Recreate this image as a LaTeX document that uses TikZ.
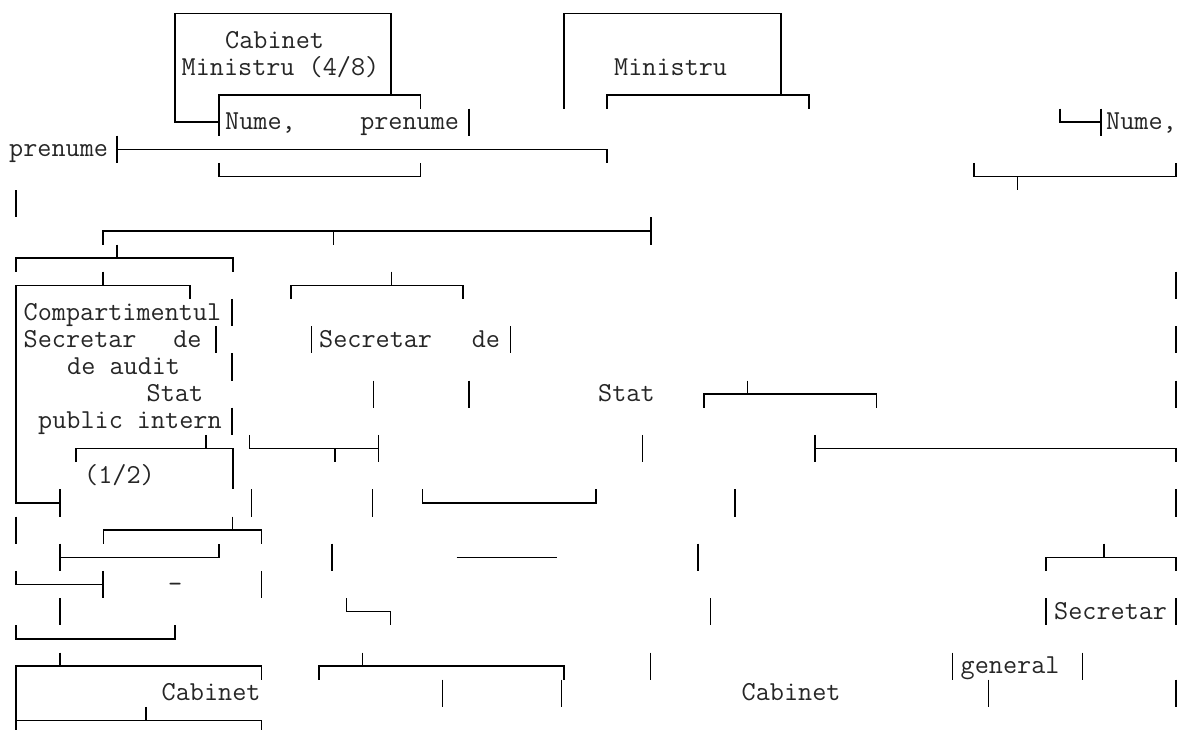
\documentclass[tikz,border=0pt]{standalone}
\usepackage{fontspec}
\begin{document}
\begin{tikzpicture}[x=1pt,y=-27.2pt,
  bx/.style={line width=1.3pt,black},
  lbl/.style={font=\ttfamily\fontsize{27.4}{30}\selectfont,anchor=base west,inner sep=0pt,yshift=-7.5pt,text=black!85}]
\useasboundingbox[fill=white] (0pt,0pt) rectangle (1179pt,-729pt);
\begin{scope}[yshift=-13.3pt]
% ---- texts ----
\node[lbl] (t1) at (225,1) {Cabinet};
\node[lbl] (t2) at (181.5,2) {Ministru (4/8)};
\node[lbl] (t3) at (614,2) {Ministru};
\node[lbl] (t4) at (225,4) {Nume,\hspace{64.5pt}prenume};
\node[lbl] (t5) at (1106,4) {Nume,};
\node[lbl] (t6) at (9,5) {prenume};
\node[lbl] (t7) at (23.5,11) {Compartimentul};
\node[lbl] (t8) at (23.5,12) {Secretar\hspace{36.8pt}de};
\node[lbl] (t9) at (319,12) {Secretar\hspace{39.8pt}de};
\node[lbl] (t10) at (67,13) {de audit};
\node[lbl] (t11) at (146.5,14) {Stat};
\node[lbl] (t12) at (598,14) {Stat};
\node[lbl] (t13) at (38,15) {public intern};
\node[lbl] (t14) at (84,17) {(1/2)};
\node[lbl] (t15) at (168,21) {-};
\node[lbl] (t16) at (1054,22) {Secretar};
\node[lbl] (t17) at (960.5,24) {general};
\node[lbl] (t18) at (161.5,25) {Cabinet};
\node[lbl] (t19) at (741.5,25) {Cabinet};
% ---- rows 0-6 ----
\draw[bx] (219,4) -- (175,4) -- (175,0) -- (391,0) -- (391,3);
\draw[bx] (219,4.5) -- (219,3) -- (420.7,3) -- (420.7,3.5);
\draw[bx] (469,3.5) -- (469,4.5);
\draw[bx] (117,4.5) -- (117,5.5);
\draw[bx] (117,5) -- (607,5) -- (607,5.5);
\draw[bx] (219,5.5) -- (219,6) -- (420.7,6) -- (420.7,5.5);
\draw[bx] (564,3.5) -- (564,0) -- (781,0) -- (781,3);
\draw[bx] (607,3.5) -- (607,3) -- (809,3) -- (809,3.5);
\draw[bx] (1060,3.5) -- (1060,4) -- (1101,4);
\draw[bx] (1101,3.5) -- (1101,4.5);
\draw[bx] (974,5.5) -- (974,6) -- (1176,6) -- (1176,5.5);
\draw[bx] (1017.7,6) -- (1017.7,6.5);
% ---- rows 7-10 ----
\draw[bx] (16,6.5) -- (16,7.5);
\draw[bx] (103,8.5) -- (103,8) -- (651,8);
\draw[bx] (651,7.5) -- (651,8.5);
\draw[bx] (333.3,8) -- (333.3,8.5);
\draw[bx] (16,9.5) -- (16,9) -- (233,9) -- (233,9.5);
\draw[bx] (117,8.5) -- (117,9);
\draw[bx] (60,18) -- (16,18) -- (16,10) -- (190,10) -- (190,10.5);
\draw[bx] (60,17.5) -- (60,18.5);
\draw[bx] (103,9.5) -- (103,10);
\draw[bx] (291,10.5) -- (291,10) -- (463,10) -- (463,10.5);
\draw[bx] (391.7,9.5) -- (391.7,10);
\draw[bx] (1176,9.5) -- (1176,10.5);
% ---- rows 11-15 ----
\draw[bx] (232,10.5) -- (232,11.5);
\draw[bx] (216,11.5) -- (216,12.5);
\draw[bx] (311.7,11.5) -- (311.7,12.5);
\draw[bx] (510.7,11.5) -- (510.7,12.5);
\draw[bx] (1176,11.5) -- (1176,12.5);
\draw[bx] (232,12.5) -- (232,13.5);
\draw[bx] (373.3,13.5) -- (373.3,14.5);
\draw[bx] (469,13.5) -- (469,14.5);
\draw[bx] (704,14.5) -- (704,14) -- (876.7,14) -- (876.7,14.5);
\draw[bx] (747.7,13.5) -- (747.7,14);
\draw[bx] (1176,13.5) -- (1176,14.5);
\draw[bx] (232,14.5) -- (232,15.5);
% ---- rows 16-18 ----
\draw[bx] (76,16.5) -- (76,16) -- (233,16) -- (233,17.5);
\draw[bx] (206,15.5) -- (206,16);
\draw[bx] (249.3,15.5) -- (249.3,16) -- (378.3,16);
\draw[bx] (378.3,15.5) -- (378.3,16.5);
\draw[bx] (335,16) -- (335,16.5);
\draw[bx] (642.3,15.5) -- (642.3,16.5);
\draw[bx] (815,15.5) -- (815,16.5);
\draw[bx] (815,16) -- (1176,16) -- (1176,16.5);
\draw[bx] (251.7,17.5) -- (251.7,18.5);
\draw[bx] (372.7,17.5) -- (372.7,18.5);
\draw[bx] (422.7,17.5) -- (422.7,18) -- (596,18) -- (596,17.5);
\draw[bx] (735,17.5) -- (735,18.5);
\draw[bx] (1176,17.5) -- (1176,18.5);
% ---- rows 19-23 ----
\draw[bx] (16,18.5) -- (16,19.5);
\draw[bx] (103.3,19.5) -- (103.3,19) -- (261.7,19) -- (261.7,19.5);
\draw[bx] (232.7,18.5) -- (232.7,19);
\draw[bx] (60,19.5) -- (60,20.5);
\draw[bx] (60,20) -- (219,20) -- (219,19.5);
\draw[bx] (332,19.5) -- (332,20.5);
\draw[bx] (456.7,20) -- (556.7,20);
\draw[bx] (698,19.5) -- (698,20.5);
\draw[bx] (1046,20.5) -- (1046,20) -- (1176,20) -- (1176,20.5);
\draw[bx] (1104,19.5) -- (1104,20);
\draw[bx] (16,20.5) -- (16,21) -- (103,21);
\draw[bx] (103,20.5) -- (103,21.5);
\draw[bx] (261.7,20.5) -- (261.7,21.5);
\draw[bx] (60,21.5) -- (60,22.5);
\draw[bx] (346.7,21.5) -- (346.7,22) -- (390.7,22) -- (390.7,22.5);
\draw[bx] (710.7,21.5) -- (710.7,22.5);
\draw[bx] (1046,21.5) -- (1046,22.5);
\draw[bx] (1176,21.5) -- (1176,22.5);
\draw[bx] (16,22.5) -- (16,23) -- (175,23) -- (175,22.5);
% ---- rows 24-26 ----
\draw[bx] (16,24.5) -- (16,24) -- (261.7,24) -- (261.7,24.5);
\draw[bx] (60,23.5) -- (60,24);
\draw[bx] (319,24.5) -- (319,24) -- (564,24) -- (564,24.5);
\draw[bx] (362.7,23.5) -- (362.7,24);
\draw[bx] (650.7,23.5) -- (650.7,24.5);
\draw[bx] (952.7,23.5) -- (952.7,24.5);
\draw[bx] (1082.7,23.5) -- (1082.7,24.5);
\draw[bx] (16,24.5) -- (16,25.5);
\draw[bx] (442.7,24.5) -- (442.7,25.5);
\draw[bx] (561.7,24.5) -- (561.7,25.5);
\draw[bx] (988.3,24.5) -- (988.3,25.5);
\draw[bx] (1176,24.5) -- (1176,25.5);
\draw[bx] (16,25.5) -- (16,26.4);
\draw[bx] (16,26) -- (261.7,26) -- (261.7,26.4);
\draw[bx] (146,25.5) -- (146,26);
\end{scope}
\end{tikzpicture}
\end{document}
